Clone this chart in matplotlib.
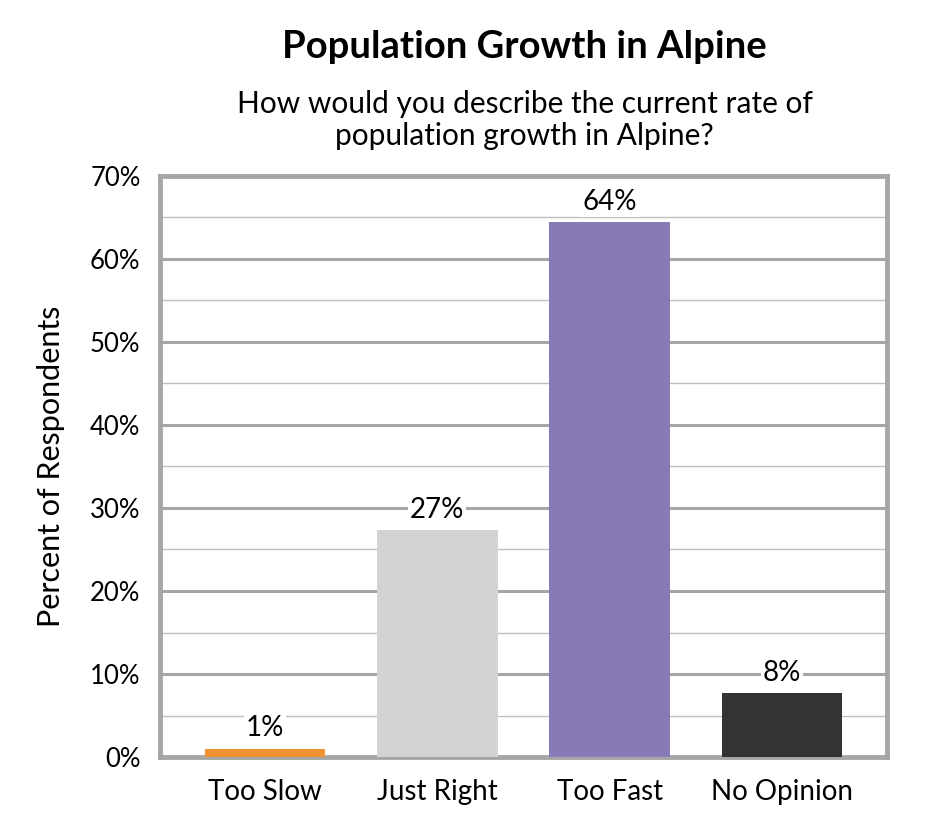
import numpy as np
import matplotlib.pyplot as plt
from matplotlib.ticker import MultipleLocator, FuncFormatter

categories = ["Too Slow", "Just Right", "Too Fast", "No Opinion"]
percent = [1.0, 27.3, 64.4, 7.7]
labels = ["1%", "27%", "64%", "8%"]
colors = ["#EE9234", "#D3D3D3", "#887AB6", "#333333"]

plt.rcParams['font.family'] = ['Lato', 'DejaVu Sans']

fig = plt.figure(figsize=(9.45, 8.4), dpi=100)
ax = fig.add_axes([0.1693, 0.0988, 0.7693, 0.6917])

x = np.arange(len(categories))
ax.bar(x, percent, width=0.70, color=colors, zorder=3)

for xi, v, lab in zip(x, percent, labels):
    ax.text(xi, v + 0.9, lab, ha='center', va='bottom', fontsize=20, zorder=4,
            bbox=dict(facecolor='white', edgecolor='none', pad=1.5))

ax.set_xlim(-0.61, 3.61)
ax.set_ylim(0, 70)
ax.yaxis.set_major_locator(MultipleLocator(10))
ax.yaxis.set_minor_locator(MultipleLocator(5))
ax.yaxis.set_major_formatter(FuncFormatter(lambda v, p: f"{v:.0f}%"))
ax.grid(axis='y', which='major', color='#A6A6A6', linewidth=2.2, zorder=1)
ax.grid(axis='y', which='minor', color='#BFBFBF', linewidth=1.0, zorder=1)
ax.set_xticks(x)
ax.set_xticklabels(categories)
ax.tick_params(axis='both', which='both', length=0)
ax.tick_params(axis='x', labelsize=20, pad=16)
ax.tick_params(axis='y', labelsize=18.5, pad=14)

for s in ax.spines.values():
    s.set_color('#A6A6A6')
    s.set_linewidth(3.5)

ax.set_ylabel("Percent of Respondents", fontsize=22, labelpad=18)

fig.text(0.555, 0.944, "Population Growth in Alpine", ha='center', va='center',
         fontsize=27.5, fontweight='bold')
fig.text(0.555, 0.857, "How would you describe the current rate of\npopulation growth in Alpine?",
         ha='center', va='center', fontsize=21.5, linespacing=1.2)

fig.savefig("out.png", dpi=100, facecolor='white')
